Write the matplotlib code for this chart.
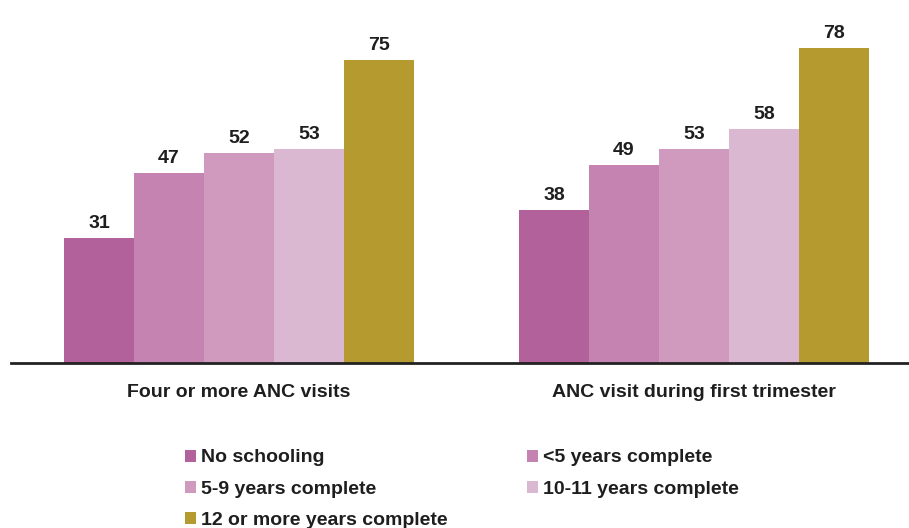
import matplotlib.pyplot as plt
import matplotlib as mpl
import numpy as np

mpl.rcParams['font.family'] = ['Liberation Sans', 'DejaVu Sans']
mpl.rcParams['font.weight'] = 'bold'

groups = ['Four or more ANC visits', 'ANC visit during first trimester']
series = ['No schooling', '<5 years complete', '5-9 years complete',
          '10-11 years complete', '12 or more years complete']
values = [[31, 38],
          [47, 49],
          [52, 53],
          [53, 58],
          [75, 78]]
colors = ['#B2619A', '#C483B0', '#CF9ABD', '#DAB8D1', '#B59A30']

fig = plt.figure(figsize=(9.09, 5.28), dpi=100)
ax = fig.add_axes([11/909, 165/528, 898/909, 363/528])

x = np.arange(len(groups))
w = 0.1538
bars = []
for i, (name, vals) in enumerate(zip(series, values)):
    b = ax.bar(x + (i - 2) * w, vals, w, color=colors[i], label=name)
    bars.append(b)
    for xi, v in zip(x + (i - 2) * w, vals):
        ax.text(xi, v + 3.6, str(v), ha='center', va='center',
                fontsize=14, fontweight='bold', color='#1e1e1e')

ax.set_xlim(-0.501, 1.4725)
ax.set_ylim(0, 89.9)
for s in ['top', 'right', 'left']:
    ax.spines[s].set_visible(False)
ax.spines['bottom'].set_linewidth(2)
ax.spines['bottom'].set_color('#222222')
ax.set_yticks([])
ax.set_xticks(x)
ax.set_xticklabels(groups, fontsize=14, fontweight='bold', color='#1e1e1e')
ax.tick_params(axis='x', length=0, pad=15)

order = [0, 2, 4, 1, 3]
leg = fig.legend([bars[k] for k in order], [series[k] for k in order],
                 ncol=2, loc='upper left', bbox_to_anchor=(167/909, 1 - 432/528),
                 frameon=False, fontsize=14, handlelength=0.57, handleheight=0.57,
                 handletextpad=0.26, columnspacing=4.1, labelspacing=0.73)
for t in leg.get_texts():
    t.set_fontweight('bold')
    t.set_color('#1e1e1e')

plt.savefig('out.png', dpi=100)
